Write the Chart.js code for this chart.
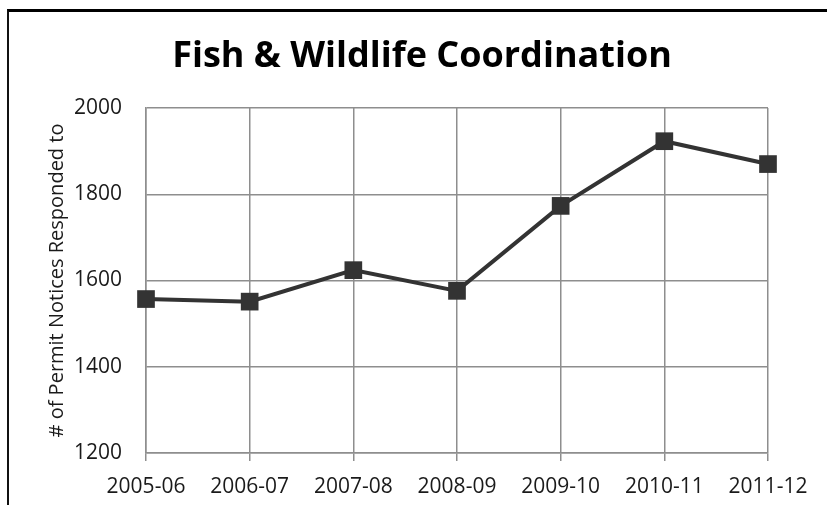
<!DOCTYPE html>
<html>
<head>
<meta charset="utf-8">
<script src="https://cdn.jsdelivr.net/npm/chart.js@4"></script>
<style>
  html, body { margin: 0; padding: 0; background: #fff; }
  #wrap { position: relative; width: 827px; height: 505px; }
  #frame {
    position: absolute; left: 7px; top: 9px; right: 0; bottom: 0;
    border-top: 3px solid #000; border-left: 2px solid #111;
    pointer-events: none;
  }
</style>
</head>
<body>
<div id="wrap">
  <canvas id="fishChart" width="827" height="505"></canvas>
  <div id="frame"></div>
</div>
<script>
// ─── Data ─────────────────────────────────────────────────────────────────────
const YEARS    = ['2005-06','2006-07','2007-08','2008-09','2009-10','2010-11','2011-12'];
const NOTICES  = [1557, 1551, 1624, 1576, 1773, 1923, 1870];
const Y_TICKS  = [1200, 1400, 1600, 1800, 2000];
const TITLE    = 'Fish & Wildlife Coordination';

const GRID_GREY = '#8e8e8e';
const INK       = '#333333';

Chart.defaults.font.family = "'Open Sans', sans-serif";
Chart.defaults.color = '#1a1a1a';

// title centred on the whole picture, not on the plot area
const pageTitle = {
  id: 'pageTitle',
  afterDraw(chart) {
    const c = chart.ctx;
    c.save();
    c.font = "bold 36px 'Open Sans', sans-serif";
    c.fillStyle = '#000';
    c.textAlign = 'center';
    c.textBaseline = 'middle';
    c.fillText(TITLE, 422, 57);
    c.restore();
  }
};

// ─── Line Chart ───────────────────────────────────────────────────────────────
const ctx = document.getElementById('fishChart').getContext('2d');
new Chart(ctx, {
  type: 'line',
  data: {
    labels: YEARS,
    datasets: [{
      label: '# of Permit Notices Responded to',
      data: NOTICES,
      borderColor: INK,
      borderWidth: 4,
      backgroundColor: INK,
      pointStyle: 'rect',
      pointRadius: 12.5,
      pointBorderWidth: 0,
      pointBackgroundColor: INK,
      tension: 0,
      fill: false,
      clip: false
    }]
  },
  options: {
    responsive: false,
    animation: false,
    layout: { padding: { left: 10, right: 59, top: 108, bottom: 0 } },
    plugins: {
      legend: { display: false },
      tooltip: { enabled: false },
      title: { display: false }
    },
    scales: {
      x: {
        offset: false,
        afterFit: (s) => { s.height = 52; },
        grid: { color: GRID_GREY, lineWidth: 1.5, tickLength: 8, drawTicks: true },
        border: { color: GRID_GREY, width: 1.5 },
        ticks: { font: { size: 21 }, padding: 13, maxRotation: 0, autoSkip: false }
      },
      y: {
        min: 1200, max: 2000,
        afterBuildTicks: (s) => { s.ticks = Y_TICKS.map(v => ({ value: v })); },
        afterFit: (s) => { s.width = 136; },
        grid: { color: GRID_GREY, lineWidth: 1.5, drawTicks: false },
        border: { color: GRID_GREY, width: 1.5 },
        ticks: { font: { size: 21 }, padding: 24, callback: (v) => String(v) },
        title: {
          display: true,
          text: '# of Permit Notices Responded to',
          font: { size: 20 },
          padding: { top: 35, bottom: 0 }
        }
      }
    }
  },
  plugins: [pageTitle]
});
</script>
</body>
</html>
